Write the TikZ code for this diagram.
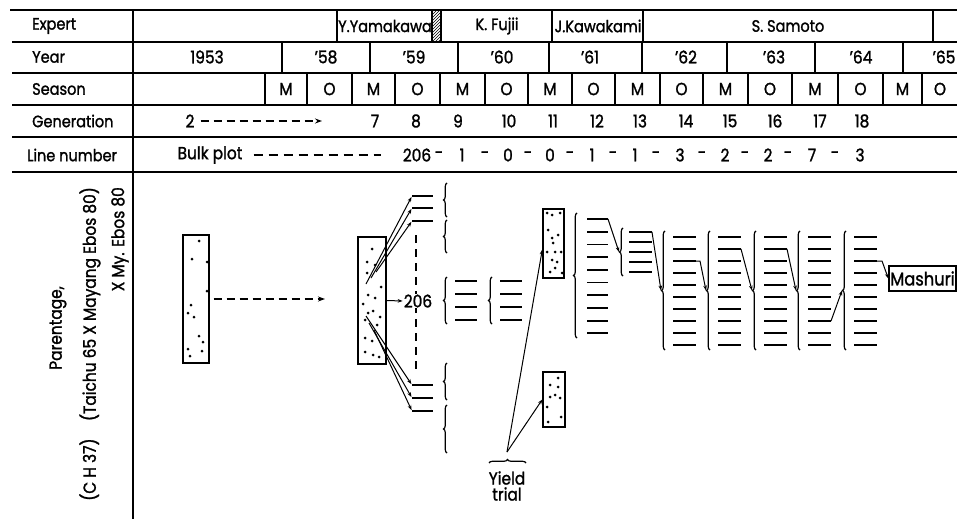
\documentclass[tikz,border=0pt]{standalone}
\usepackage{fontspec}
\setmainfont{Poppins}[FakeStretch=0.88, FakeBold=1.4]
\usetikzlibrary{arrows.meta,decorations.pathreplacing,patterns}
\begin{document}
\begin{tikzpicture}[x=1pt,y=-1pt,
  rule/.style={line width=1.3pt},
  hd/.style={font=\fontsize{16.5}{18}\selectfont, anchor=west, inner sep=0pt},
  val/.style={font=\fontsize{17.5}{19}\selectfont, inner sep=0pt},
  nm/.style={font=\fontsize{16.5}{18}\selectfont, inner sep=0pt},
  bar/.style={line width=1.8pt},
  br/.style={decorate, decoration={brace, amplitude=3.5pt}, line width=1.2pt},
  arr/.style={-{Stealth[length=5pt,width=3.6pt]}, line width=1pt},
  dsh/.style={line width=1.3pt, dash pattern=on 8pt off 5pt},
  plot/.style={draw, line width=1.4pt, inner sep=0pt},
  dot/.style={fill, circle, inner sep=0pt, minimum size=3pt},
]
\useasboundingbox (0,0) rectangle (957,519);
% ---------- table rules
\draw[line width=1.9pt] (10,10) -- (957,10);
\foreach \y in {42,73,105,137,172} \draw[rule] (12,\y) -- (957,\y);
\draw[rule] (133,10) -- (133,519);
\foreach \x in {337,432,441,552,643,933} \draw[rule] (\x,10) -- (\x,42);
\fill[pattern=north east lines] (432,10) rectangle (441,42);
\foreach \x in {282,370,458,549,642,727,815,903} \draw[rule] (\x,42) -- (\x,73);
\foreach \x in {265,307,352,395,440,485,528,572,615,660,703,748,792,838,883,922} \draw[rule] (\x,73) -- (\x,105);
% ---------- header labels
\node[hd] (hExp) at (32,26) {Expert};
\node[hd] (hYear) at (32,57) {Year};
\node[hd] (hSea) at (32,89) {Season};
\node[hd] (hGen) at (32,121) {Generation};
\node[hd] (hLin) at (27,155) {Line number};
% ---------- experts
\node[nm] (eY) at (385,26) {Y.Yamakawa};
\node[nm] (eK) at (497,26) {K. Fujii};
\node[nm] (eJ) at (598,26) {J.Kawakami};
\node[nm] (eS) at (788,26) {S. Samoto};
% ---------- years
\node[val] (y53) at (207,57) {1953};
\foreach \t/\x in {58/326,59/414,60/502,61/590,62/686,63/774,64/861,65/944}
  \node[val] (y\t) at (\x,57) {’\t};
% ---------- seasons
\foreach \i/\x/\s in {1/286/M,2/329.5/O,3/373.5/M,4/417.5/O,5/462.5/M,6/506.5/O,7/550/M,8/593.5/O,9/637.5/M,10/681.5/O,11/725.5/M,12/770/O,13/815/M,14/860.5/O,15/902.5/M,16/940/O}
  \node[val] (s\i) at (\x,89) {\s};
% ---------- generations
\node[val] (g2) at (190,121) {2};
\foreach \t/\x in {7/375,8/416,9/458,10/509,11/553,12/597,13/640,14/686,15/730,16/775,17/820,18/862}
  \node[val] (g\t) at (\x,121) {\t};
\coordinate (garr) at (322,121);
\draw[dsh, -{Stealth[length=7pt,width=5pt]}, shorten <=6pt] (g2.east) -- (garr);
% ---------- line numbers
\node[val] (bp) at (210,155) {Bulk plot};
\node[val] (l206) at (417,155) {206};
\foreach \i/\x/\t in {1/439/-,2/462/1,3/485/-,4/508/0,5/528/-,6/550/0,7/570/-,8/592/1,9/613/-,10/635/1,11/656/-,12/680/3,13/702/-,14/725/2,15/745/-,16/768/2,17/788/-,18/812/7,19/835/-,20/860/3}
  \node[val] (ln\i) at (\x,155) {\t};
\draw[dsh, dash pattern=on 9pt off 6pt, shorten <=11pt, shorten >=22pt] (bp.east) -- (l206.west);
% ---------- parentage
\node[val, rotate=90] (par1) at (58,328) {Parentage,};
\node[val, rotate=90, anchor=east] (par2) at (90,187) {(C H 37)\quad(Taichu 65 X Mayang Ebos 80)};
\node[val, rotate=90, anchor=east] (par3) at (120,187) {X My. Ebos 80};
% ---------- bulk plot box
\node[plot, minimum width=26pt, minimum height=128pt] (bulk) at (196,299) {};
\foreach \p in {(199,241),(192,259),(207,291),(191,305),(188,313),(194,317),(199,336),(203,342),(188,349),(190,356),(202,351),(207,262)}
  \node[dot] at \p {};
\coordinate (dend) at (325,299);
\draw[dsh, -{Stealth[length=7pt,width=5pt]}, shorten <=4pt] (bulk.east) -- (dend);
% ---------- selection box (gen 7)
\node[plot, minimum width=28pt, minimum height=127pt] (sel) at (372,300.5) {};
\foreach \p in {(372,249),(367,262),(375,265),(367,273),(368,295),(375,298),(368,313),(373,311),(380,317),(365,320),(377,325),(365,338),(372,341),(365,352),(373,355),(379,357),(381,287),(363,304)}
  \node[dot] at \p {};
% gen 8 bars
\foreach \i/\y in {1/196,2/208,3/221} \draw[bar] (412,\y) coordinate (u\i) -- (433,\y);
\foreach \i/\y in {1/385,2/398,3/411} \draw[bar] (412,\y) coordinate (d\i) -- (433,\y);
\coordinate (ua1) at (366,284); \coordinate (ua2) at (371,278); \coordinate (ua3) at (376,272);
\coordinate (da1) at (366,316); \coordinate (da2) at (369,323); \coordinate (da3) at (374,330);
\foreach \i in {1,2,3} {
  \draw[arr, shorten >=1pt] (ua\i) -- (u\i);
  \draw[arr, shorten >=1pt] (da\i) -- (d\i);
}
\coordinate (vt) at (416,235); \coordinate (vb) at (416,372);
\draw[line width=1.3pt, dash pattern=on 8pt off 6pt] (vt) -- (vb);
\node[val, fill=white, inner sep=1pt] (n206) at (418,301) {206};
\draw[arr] (sel.east) -- (n206.west);
% discarded line braces
\draw[br] (447,217) -- (447,183);
\draw[br] (447,253) -- (447,220);
\draw[br] (447,400) -- (447,363);
\draw[br] (447,453) -- (447,405);
% gen 9 and 10
\foreach \bx in {447,492} {
  \draw[br] (\bx,324) -- (\bx,277);
  \foreach \y in {281,294,307,320} \draw[bar] (\bx+8,\y) -- (\bx+30,\y);
}
% ---------- yield trial boxes
\node[plot, minimum width=21pt, minimum height=69pt] (yt1) at (553.5,243.5) {};
\foreach \p in {(547,213),(552,215),(560,213),(548,230),(552,238),(558,235),(553,243),(547,252),(555,252),(561,252),(552,260),(557,262),(550,272),(555,268),(562,273)}
  \node[dot] at \p {};
\node[plot, minimum width=22pt, minimum height=55pt] (yt2) at (554,399.5) {};
\foreach \p in {(558,378),(550,385),(558,387),(550,397),(555,395),(560,398),(547,407),(561,417),(548,422)}
  \node[dot] at \p {};
\node[val, align=center] (yield) at (507,486) {Yield\\[-3pt]trial};
\draw[br] (489,463) -- (526,463);
\coordinate (yb) at (507,452);
\draw[arr] (yb) -- ([yshift=-6pt]yt1.west);
\draw[arr] (yb) -- (yt2.west);
% ---------- gen 12
\draw[br] (577,338) -- (577,213);
\foreach \k in {1,...,10} \draw[bar] (587,{219+12.7*(\k-1)}) -- (608,{219+12.7*(\k-1)}) coordinate (e12-\k);
% ---------- gen 13
\draw[br] (623,276) -- (623,228);
\coordinate (t13) at (619,252);
\foreach \k in {1,...,5} \draw[bar] (629,{232+10*(\k-1)}) -- (652,{232+10*(\k-1)}) coordinate (e13-\k);
% ---------- gen 14 - 18
\foreach \g/\bx in {14/665,15/710,16/756,17/800,18/846} {
  \draw[br] (\bx,350) -- (\bx,231);
  \coordinate (t\g) at (\bx-4,290.5);
  \foreach \k in {1,...,10} \draw[bar] (\bx+8,{237+12*(\k-1)}) -- (\bx+31,{237+12*(\k-1)}) coordinate (e\g-\k);
}
\node[draw, line width=1.4pt, val, font=\fontsize{18.5}{20}\selectfont, inner sep=0pt, minimum width=67pt, minimum height=25pt] (mash) at (922.5,278.5) {Mashuri};
% ---------- connectors
\draw[arr] (e12-1) -- (t13);
\draw[arr] (e13-1) -- (t14);
\draw[arr] (e14-3) -- ++(4,0) -- (t15);
\draw[arr] (e15-2) -- (t16);
\draw[arr] (e16-2) -- (t17);
\draw[arr] (e17-8) -- (t18);
\draw[arr] (e18-3) -- ++(5,0) -- (mash.west);
\end{tikzpicture}
\end{document}
